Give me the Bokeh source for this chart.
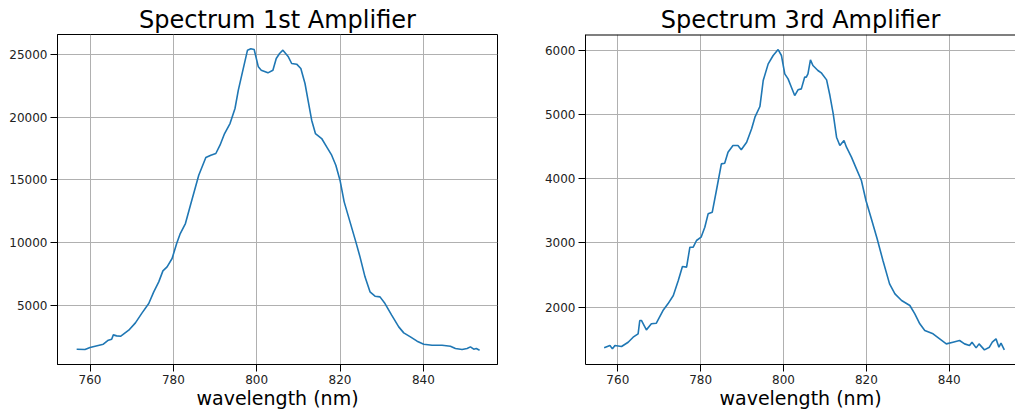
from bokeh.plotting import figure
from bokeh.layouts import row
from bokeh.models import Range1d, FixedTicker, Span
from bokeh.embed import file_html
from bokeh.resources import INLINE

# ---- data ----
wl1 = [756.8, 758.8, 760.0, 763.2, 764.4, 765.2, 765.6, 766.4, 767.4, 769.3,
       770.9, 772.5, 774.1, 775.3, 776.5, 777.5, 778.5, 779.7, 780.8, 781.6,
       782.9, 784.1, 785.1, 786.1, 787.8, 789.0, 790.2, 791.2, 792.3, 793.6,
       794.8, 795.6, 796.6, 797.8, 798.6, 799.4, 800.4, 801.1, 802.7, 803.9,
       804.7, 805.5, 806.3, 807.6, 808.4, 809.6, 810.6, 811.6, 812.4, 813.2,
       814.1, 815.6, 816.8, 818.0, 819.0, 820.0, 821.0, 822.4, 823.8, 824.8,
       826.0, 827.2, 828.4, 829.6, 830.8, 832.4, 834.1, 835.3, 836.9, 838.5,
       840.1, 842.1, 844.5, 846.5, 847.7, 849.3, 850.5, 851.3, 852.1, 852.7,
       853.5]
amp1 = [1489, 1463, 1622, 1888, 2207, 2287, 2633, 2553, 2527, 3005,
        3590, 4388, 5133, 6064, 6862, 7739, 8059, 8723, 9920, 10665,
        11516, 12979, 14176, 15372, 16782, 16968, 17101, 17766, 18697, 19495,
        20691, 22154, 23617, 25346, 25452, 25399, 24016, 23750, 23537, 23750,
        24681, 25080, 25346, 24814, 24282, 24229, 23883, 22686, 21223, 19761,
        18697, 18298, 17633, 16968, 16170, 14973, 13245, 11649, 10053, 8856,
        7261, 6064, 5718, 5665, 5133, 4202, 3271, 2793, 2473, 2128,
        1888, 1809, 1809, 1729, 1543, 1463, 1543, 1676, 1489, 1543,
        1410]

wl3 = [756.7, 758.1, 758.7, 759.3, 760.9, 762.5, 763.7, 764.9, 765.3, 765.7,
       766.9, 768.1, 769.3, 770.9, 772.1, 773.4, 774.6, 775.6, 776.6, 777.4,
       778.2, 779.0, 780.1, 781.0, 781.8, 782.8, 783.8, 785.0, 785.8, 786.6,
       787.8, 789.0, 789.8, 791.1, 792.3, 793.1, 794.3, 795.1, 796.3, 797.5,
       798.7, 799.5, 800.3, 801.1, 801.9, 802.7, 803.5, 804.3, 805.1, 805.5,
       805.9, 806.5, 807.1, 808.3, 809.2, 810.4, 811.2, 812.0, 812.8, 813.6,
       814.6, 815.2, 816.4, 817.6, 818.8, 819.9, 821.2, 822.6, 824.0, 825.6,
       826.9, 828.5, 830.5, 831.7, 832.9, 834.1, 836.1, 837.7, 839.3, 840.9,
       842.5, 843.7, 844.9, 845.5, 846.5, 847.2, 848.5, 849.7, 850.4, 851.3,
       852.0, 852.5, 853.3]
amp3 = [1367, 1403, 1351, 1403, 1388, 1455, 1533, 1585, 1793, 1793,
        1647, 1741, 1751, 1948, 2052, 2182, 2415, 2633, 2623, 2934,
        2934, 3038, 3089, 3245, 3453, 3479, 3816, 4231, 4241, 4412,
        4516, 4516, 4449, 4568, 4776, 4957, 5123, 5528, 5787, 5917,
        6010, 5917, 5632, 5554, 5424, 5294, 5383, 5398, 5580, 5580,
        5632, 5850, 5761, 5684, 5642, 5538, 5294, 5009, 4646, 4516,
        4594, 4490, 4335, 4153, 3971, 3660, 3375, 3064, 2726, 2363,
        2208, 2104, 2026, 1896, 1741, 1637, 1585, 1507, 1429, 1455,
        1481, 1429, 1403, 1455, 1367, 1429, 1336, 1377, 1455, 1507,
        1377, 1440, 1336]

xticks = [760, 780, 800, 820, 840]
yticks1 = [5000, 10000, 15000, 20000, 25000]
yticks3 = [2000, 3000, 4000, 5000, 6000]
title1 = "Spectrum 1st Amplifier"
title3 = "Spectrum 3rd Amplifier"
xlabel = "wavelength (nm)"

FONT = "DejaVu Sans"
LINE = "#1f77b4"
GRID = "#b0b0b0"


def make(title, x, y, yticks, xr, yr, width, mbl, mbr, outline):
    p = figure(width=width, height=411,
               x_range=Range1d(*xr), y_range=Range1d(*yr),
               output_backend="svg", toolbar_location=None,
               min_border_left=mbl, min_border_right=mbr,
               min_border_top=34, min_border_bottom=47)
    p.title.text = title
    p.title.align = "center"
    p.title.text_font = FONT
    p.title.text_font_size = "24px"
    p.title.text_font_style = "normal"
    p.title.text_color = "black"
    p.title.standoff = 2
    p.title.offset = 0

    p.line(x, y, line_color=LINE, line_width=1.6)

    p.xaxis.ticker = FixedTicker(ticks=xticks)
    p.yaxis.ticker = FixedTicker(ticks=yticks)
    p.xaxis.axis_label = xlabel
    p.xaxis.axis_label_text_font = FONT
    p.xaxis.axis_label_text_font_size = "19px"
    p.xaxis.axis_label_text_font_style = "normal"
    p.xaxis.axis_label_text_color = "black"
    p.xaxis.axis_label_standoff = 0
    for ax in (p.xaxis, p.yaxis):
        ax.major_label_text_font = FONT
        ax.major_label_text_font_size = "12px"
        ax.major_label_text_color = "#222222"
        ax.major_label_standoff = 3
        ax.major_tick_out = 7
        ax.major_tick_in = 0
        ax.minor_tick_line_color = None
        ax.axis_line_color = "black"
        ax.major_tick_line_color = "black"
    p.yaxis.formatter.use_scientific = False

    p.xgrid.ticker = FixedTicker(ticks=xticks)
    p.ygrid.ticker = FixedTicker(ticks=yticks)
    p.grid.grid_line_color = GRID
    p.grid.grid_line_width = 1
    if outline:
        p.outline_line_color = "black"
        p.outline_line_width = 1
    else:
        p.outline_line_color = None
        top = Span(location=yr[1], dimension="width", line_color="black",
                   line_width=2)
        p.add_layout(top)
    p.background_fill_color = "white"
    p.border_fill_color = "white"
    return p


p1 = make(title1, wl1, amp1, yticks1, (752.2, 857.8), (269, 26596),
          528, 57, 31, True)
p3 = make(title3, wl3, amp3, yticks3, (752.2, 856.0), (1108, 6244),
          487, 57, 0, False)

layout = row(p1, p3)
open("out.html", "w").write(file_html(layout, INLINE))
